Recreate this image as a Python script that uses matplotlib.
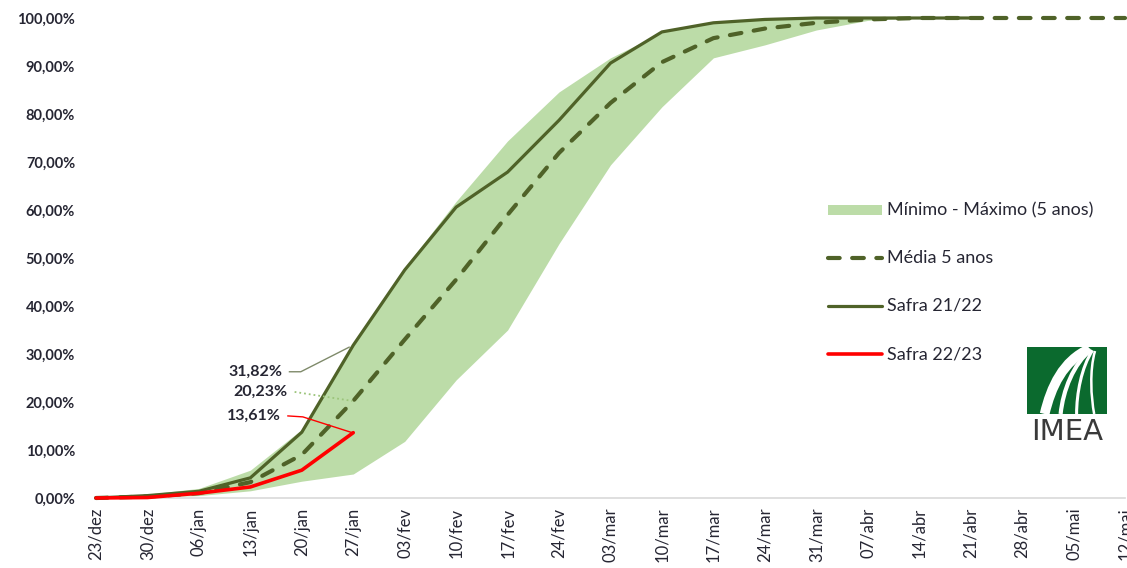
import matplotlib
matplotlib.use("Agg")
import matplotlib.pyplot as plt
from matplotlib.lines import Line2D
from matplotlib.patches import Rectangle
from matplotlib.path import Path
from matplotlib.patches import PathPatch

plt.rcParams['font.family'] = ['Lato', 'DejaVu Sans']

# Weekly dates of the harvest calendar
weeks = ["23/dez", "30/dez", "06/jan", "13/jan", "20/jan", "27/jan", "03/fev",
         "10/fev", "17/fev", "24/fev", "03/mar", "10/mar", "17/mar", "24/mar",
         "31/mar", "07/abr", "14/abr", "21/abr", "28/abr", "05/mai", "12/mai"]

# Harvest progress (%)
band_min = [0.0, 0.2, 0.5, 1.5, 3.5, 5.0, 11.8, 24.6, 35.0, 53.0, 69.4, 81.5,
            91.7, 94.4, 97.5, 99.5, 100.0, 100.0]
band_max = [0.0, 0.8, 2.0, 5.8, 14.3, 31.82, 48.0, 61.8, 74.4, 84.6, 91.7, 97.0,
            99.2, 99.8, 100.0, 100.0, 100.0, 100.0]
media_5 = [0.0, 0.3, 1.0, 3.3, 9.0, 20.23, 33.0, 45.5, 59.0, 71.9, 82.3, 90.8,
           95.8, 97.8, 99.0, 99.7, 100.0, 100.0, 100.0, 100.0, 100.0]
safra_2122 = [0.0, 0.5, 1.4, 4.2, 13.7, 31.82, 47.5, 60.6, 67.9, 78.7, 90.6, 97.1,
              99.0, 99.7, 100.0, 100.0, 100.0, 100.0]
safra_2223 = [0.0, 0.1, 1.0, 2.3, 5.8, 13.61]

yticks = [0, 10, 20, 30, 40, 50, 60, 70, 80, 90, 100]
ytick_labels = ["0,00%", "10,00%", "20,00%", "30,00%", "40,00%", "50,00%",
                "60,00%", "70,00%", "80,00%", "90,00%", "100,00%"]

OLIVE = "#4f6228"
BAND = "#bcdca8"
RED = "#ff0000"
TXT = "#262633"
DASH = (0, (2.8, 3.0))

W, H = 1127, 568
fig = plt.figure(figsize=(W / 100, H / 100), dpi=100)
x0, x1, y0, y1 = 96, 1125, 18, 498
ax = fig.add_axes([x0 / W, 1 - y1 / H, (x1 - x0) / W, (y1 - y0) / H])

xb = list(range(len(band_min)))
ax.fill_between(xb, band_min, band_max, color=BAND, linewidth=0, zorder=1)
ax.plot(range(len(media_5)), media_5, color=OLIVE, lw=3.0, ls=DASH,
        dash_capstyle="round", zorder=3, clip_on=False)
ax.plot(range(len(safra_2122)), safra_2122, color=OLIVE, lw=2.3,
        solid_capstyle="round", zorder=4, clip_on=False)
ax.plot(range(len(safra_2223)), safra_2223, color=RED, lw=2.6,
        solid_capstyle="round", zorder=5, clip_on=False)

ax.set_xlim(0, len(weeks) - 1)
ax.set_ylim(0, 100)
ax.set_xticks(range(len(weeks)))
ax.set_xticklabels(weeks, rotation=90, fontsize=12, color=TXT)
ax.set_yticks(yticks)
ax.set_yticklabels(ytick_labels, fontsize=10.5, fontweight="bold", color=TXT)
ax.tick_params(axis="both", length=0)
ax.tick_params(axis="y", pad=15)
ax.tick_params(axis="x", pad=7)
for s in ("top", "right", "left"):
    ax.spines[s].set_visible(False)
ax.spines["bottom"].set_color("#d9d9d9")
ax.spines["bottom"].set_linewidth(1.2)
ax.spines["bottom"].set_zorder(0)

# Value callouts for the last reported week, with bent leader lines
i_last = len(safra_2223) - 1
callouts = [
    ("31,82%", 3.63, 26.3, [(3.76, 26.3), (3.98, 26.3), (i_last - 0.08, safra_2122[i_last] - 0.4)],
     "#7f8a6a", "-"),
    ("20,23%", 3.72, 22.2, [(3.86, 22.1), (i_last - 0.02, media_5[i_last])],
     "#9bc47a", ":"),
    ("13,61%", 3.60, 17.1, [(3.73, 17.1), (4.02, 16.9), (i_last - 0.02, safra_2223[i_last])],
     RED, "-"),
]
for lab, tx, ty, pts, col, style in callouts:
    ax.text(tx, ty, lab, fontsize=11.5, fontweight="bold", color=TXT,
            ha="right", va="center", zorder=6)
    ax.plot([p[0] for p in pts], [p[1] for p in pts], color=col,
            lw=1.3 if style == ":" else 1.0, ls=style, zorder=6, clip_on=False)

# Legend, laid out as a vertical list on the right
def fx(px):
    return px / W

def fy(py):
    return 1 - py / H

leg_x0, leg_x1, leg_tx = 828, 882, 887
fig.patches.append(Rectangle((fx(leg_x0), fy(215)), fx(leg_x1) - fx(leg_x0),
                             fy(205) - fy(215), transform=fig.transFigure,
                             color=BAND, lw=0))
fig.lines.append(Line2D([fx(leg_x0), fx(leg_x1)], [fy(258), fy(258)],
                        transform=fig.transFigure, color=OLIVE, lw=3.0,
                        ls=DASH, dash_capstyle="round"))
fig.lines.append(Line2D([fx(leg_x0), fx(leg_x1)], [fy(306), fy(306)],
                        transform=fig.transFigure, color=OLIVE, lw=2.3,
                        solid_capstyle="round"))
fig.lines.append(Line2D([fx(leg_x0), fx(leg_x1)], [fy(354), fy(354)],
                        transform=fig.transFigure, color=RED, lw=2.6,
                        solid_capstyle="round"))
for py, lab in [(210, "Mínimo - Máximo (5 anos)"), (258, "Média 5 anos"),
                (306, "Safra 21/22"), (354, "Safra 22/23")]:
    fig.text(fx(leg_tx), fy(py), lab, fontsize=13, color=TXT,
             ha="left", va="center")

# IMEA logo
lx0, lx1, ly0, ly1 = 1027, 1107, 347, 414
logo = fig.add_axes([fx(lx0), fy(ly1), fx(lx1) - fx(lx0), fy(ly0) - fy(ly1)])
logo.set_xlim(0, 1)
logo.set_ylim(0, 1)
logo.axis("off")
logo.add_patch(Rectangle((0, 0), 1, 1, color="#0b6a2e", lw=0))
curves = [
    ((0.78, 0.97), (0.45, 0.80), (0.30, 0.40), (0.22, 0.0), 7.0),
    ((0.80, 0.96), (0.58, 0.75), (0.45, 0.35), (0.42, 0.0), 3.0),
    ((0.82, 0.95), (0.68, 0.70), (0.62, 0.30), (0.62, 0.0), 2.2),
    ((0.85, 0.94), (0.78, 0.65), (0.80, 0.25), (0.84, 0.0), 1.8),
]
for p0, c1, c2, p1, lw in curves:
    path = Path([p0, c1, c2, p1], [Path.MOVETO, Path.CURVE4, Path.CURVE4, Path.CURVE4])
    logo.add_patch(PathPatch(path, fill=False, ec="white", lw=lw))
fig.text(fx((lx0 + lx1) / 2), fy(432), "IMEA", fontsize=21,
         family=["Liberation Sans Narrow", "DejaVu Sans"], color="#3a3a3a",
         ha="center", va="center")

fig.savefig("out.png", dpi=100)
